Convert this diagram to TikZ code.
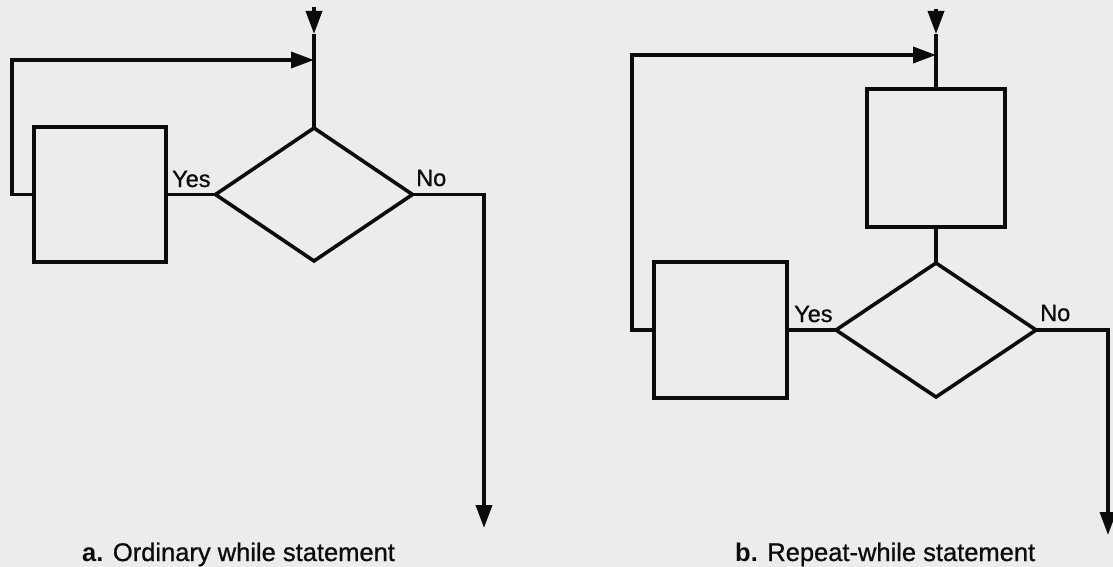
\documentclass[tikz,border=0pt]{standalone}
\usepackage{fontspec}
\setmainfont{Liberation Sans}
\newfontfamily\medfont{Liberation Sans}[RawFeature={embolden=0.9}]
\usetikzlibrary{shapes.geometric,arrows.meta}
\definecolor{paper}{RGB}{236,236,236}
\definecolor{ink}{RGB}{12,12,12}
\tikzset{
  line/.style={draw=ink,line width=3.6pt,line join=miter},
  arr/.style={line,-{Triangle[length=23pt,width=16pt]}},
  procbox/.style={rectangle,draw=ink,line width=3.6pt,inner sep=0pt,outer sep=0pt},
  decision/.style={diamond,draw=ink,line width=3.6pt,inner sep=0pt,outer sep=0pt},
  lbl/.style={anchor=base west,inner sep=0pt,text=ink,font=\medfont\fontsize{23.5}{28}\selectfont},
  captext/.style={anchor=base west,inner sep=0pt,text=ink,font=\medfont\fontsize{25.5}{30}\selectfont}
}
\begin{document}
\begin{tikzpicture}[x=1pt,y=-1pt]
\fill[paper] (0,0) rectangle (1113,567);
\useasboundingbox (0,0) rectangle (1113,567);

% ---------- a. Ordinary while statement ----------
\node[procbox,minimum width=132pt,minimum height=135pt] (b1) at (100,194.5) {};
\node[decision,minimum width=197pt,minimum height=133pt] (d1) at (314,194.5) {};
\coordinate (ltop) at (314,7);
\coordinate (ltip) at (314,34);
\coordinate (lcorner) at (12,60);
\coordinate (lj) at (314,60);
\coordinate (lend) at (484,528);

\draw[arr] (ltop) -- (ltip);
\draw[line] (ltip) -- (d1.north);
\draw[arr] (b1.west) -| (lcorner) -- (lj);
\draw[line] (b1.east) -- (d1.west);
\draw[arr] (d1.east) -| (lend);
\node[lbl] (yes1) at (172,187) {Yes};
\node[lbl] (no1) at (416,186) {No};
\node[captext] (capa) at (82,561) {{\setmainfont{Liberation Sans}\bfseries a.} Ordinary while statement};

% ---------- b. Repeat-while statement ----------
\node[procbox,minimum width=138pt,minimum height=138pt] (b2) at (936,158) {};
\node[decision,minimum width=200pt,minimum height=134pt] (d2) at (936,330) {};
\node[procbox,minimum width=133pt,minimum height=136pt] (b3) at (720.5,330) {};
\coordinate (rtop) at (936,9);
\coordinate (rtip) at (936,34);
\coordinate (rcorner) at (632,55);
\coordinate (rj) at (936,55);
\coordinate (rend) at (1108,535);

\draw[arr] (rtop) -- (rtip);
\draw[line] (rtip) -- (b2.north);
\draw[line] (b2.south) -- (d2.north);
\draw[arr] (b3.west) -| (rcorner) -- (rj);
\draw[line] (b3.east) -- (d2.west);
\draw[arr] (d2.east) -| (rend);
\node[lbl] (yes2) at (794,322) {Yes};
\node[lbl] (no2) at (1040,321) {No};
\node[captext] (capb) at (735,561) {{\setmainfont{Liberation Sans}\bfseries b.} Repeat-while statement};
\end{tikzpicture}
\end{document}
